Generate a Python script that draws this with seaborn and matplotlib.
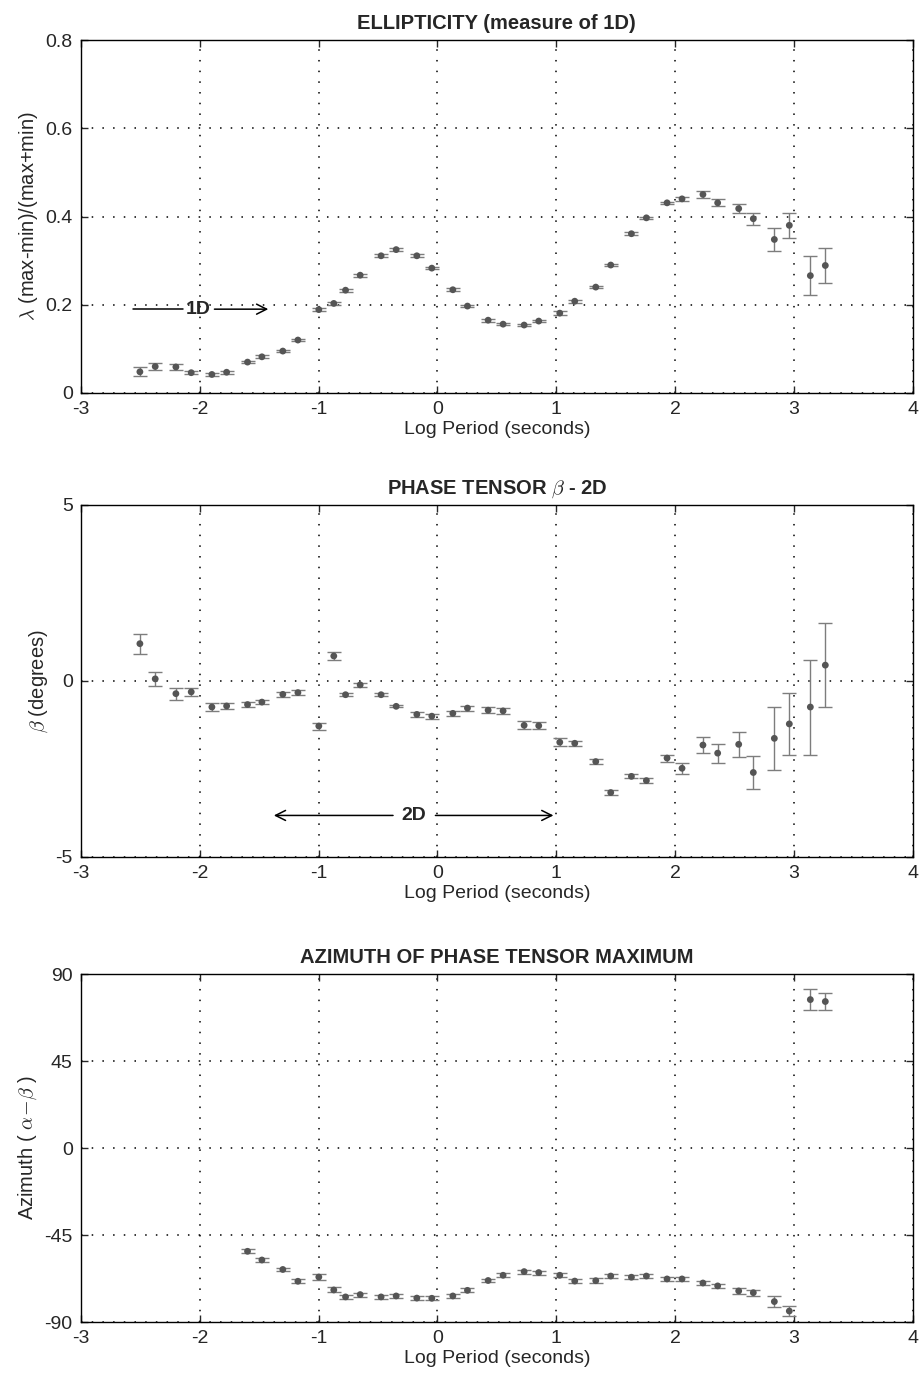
import numpy as np
import matplotlib
matplotlib.use('Agg')
import matplotlib.pyplot as plt
import seaborn as sns

sns.set_style('ticks')
plt.rcParams['font.family'] = ['Liberation Sans', 'DejaVu Sans']
plt.rcParams['mathtext.fontset'] = 'cm'

nan = np.nan

# log10 period of each estimate
log_period = [-2.504, -2.375, -2.201, -2.072, -1.898, -1.774, -1.598, -1.477,
              -1.301, -1.174, -0.998, -0.872, -0.773, -0.650, -0.474, -0.347,
              -0.173, -0.047, 0.130, 0.253, 0.427, 0.553, 0.730, 0.853,
              1.030, 1.156, 1.333, 1.459, 1.633, 1.759, 1.933, 2.059,
              2.235, 2.359, 2.536, 2.659, 2.836, 2.962, 3.139, 3.265]

ellipticity = [0.048, 0.060, 0.059, 0.046, 0.042, 0.047, 0.070, 0.082,
               0.095, 0.120, 0.189, 0.203, 0.233, 0.267, 0.311, 0.325,
               0.311, 0.283, 0.234, 0.197, 0.165, 0.156, 0.154, 0.163,
               0.181, 0.208, 0.240, 0.290, 0.361, 0.397, 0.431, 0.440,
               0.450, 0.431, 0.418, 0.395, 0.348, 0.380, 0.266, 0.289]
ellipticity_err = [0.010, 0.007, 0.007, 0.003, 0.003, 0.003, 0.003, 0.003,
                   0.003, 0.003, 0.004, 0.003, 0.003, 0.003, 0.003, 0.003,
                   0.003, 0.003, 0.003, 0.003, 0.003, 0.003, 0.003, 0.003,
                   0.004, 0.003, 0.003, 0.003, 0.003, 0.003, 0.003, 0.005,
                   0.007, 0.008, 0.011, 0.014, 0.026, 0.028, 0.045, 0.040]

beta = [1.06, 0.06, -0.36, -0.31, -0.74, -0.71, -0.67, -0.60,
        -0.38, -0.33, -1.28, 0.71, -0.39, -0.11, -0.39, -0.72,
        -0.95, -1.00, -0.92, -0.77, -0.83, -0.85, -1.26, -1.27,
        -1.74, -1.77, -2.29, -3.17, -2.71, -2.83, -2.19, -2.48,
        -1.82, -2.05, -1.80, -2.60, -1.63, -1.22, -0.74, 0.45]
beta_err = [0.28, 0.19, 0.17, 0.11, 0.11, 0.085, 0.06, 0.06,
            0.08, 0.08, 0.10, 0.10, 0.04, 0.05, 0.04, 0.03,
            0.06, 0.07, 0.08, 0.07, 0.08, 0.08, 0.11, 0.10,
            0.12, 0.07, 0.07, 0.08, 0.06, 0.07, 0.10, 0.15,
            0.24, 0.27, 0.36, 0.48, 0.90, 0.88, 1.35, 1.19]

azimuth = [nan, nan, nan, nan, nan, nan, -53.4, -57.9,
           -62.8, -68.9, -66.7, -73.4, -77.0, -75.8, -77.0, -76.5,
           -77.6, -77.7, -76.5, -73.6, -68.5, -65.8, -63.9, -64.4,
           -65.8, -68.8, -68.6, -66.2, -66.8, -66.2, -67.7, -67.7,
           -69.8, -71.3, -73.9, -74.8, -79.4, -84.3, 76.8, 75.8]
azimuth_err = [nan, nan, nan, nan, nan, nan, 1.0, 1.0,
               1.0, 1.0, 1.5, 1.3, 1.0, 1.0, 1.0, 1.0,
               1.0, 1.0, 1.0, 1.0, 1.0, 1.0, 1.0, 1.0,
               1.0, 1.0, 1.2, 1.0, 1.0, 1.0, 1.0, 1.0,
               1.0, 1.2, 1.4, 1.6, 3.0, 2.7, 5.6, 4.6]

x_ticks = [-3, -2, -1, 0, 1, 2, 3, 4]


def draw_panel(ax, y, yerr, ylim, yticks, yticklabels, title, ylabel):
    ax.errorbar(log_period, y, yerr=yerr, fmt='none', ecolor='#7d7d7d',
                elinewidth=1.0, capsize=4.7, capthick=1.0, zorder=2)
    sns.scatterplot(x=log_period, y=y, ax=ax, color='#555555', s=24,
                    edgecolor='none', zorder=3, legend=False)
    ax.set_xlim(-3, 4)
    ax.set_ylim(*ylim)
    ax.set_xticks(x_ticks)
    ax.set_xticklabels([str(t) for t in x_ticks])
    ax.set_yticks(yticks)
    ax.set_yticklabels(yticklabels)
    ax.grid(True, linestyle=(0, (1, 6)), color='black', linewidth=1.1)
    ax.tick_params(direction='in', top=True, right=True, length=5,
                   width=1.0, labelsize=14, pad=6)
    for s in ax.spines.values():
        s.set_visible(True)
        s.set_linewidth(1.0)
        s.set_color('black')
    ax.set_title(title, fontsize=14.5, fontweight='bold', pad=8)
    ax.set_xlabel('Log Period (seconds)', fontsize=14, labelpad=2)
    ax.set_ylabel(ylabel, fontsize=14.5, labelpad=4)


fig = plt.figure(figsize=(9.2, 13.76), dpi=100)
ax1 = fig.add_axes([0.088, 0.7144, 0.904, 0.2565])
ax2 = fig.add_axes([0.088, 0.3772, 0.904, 0.2558])
ax3 = fig.add_axes([0.088, 0.0392, 0.904, 0.2529])

draw_panel(ax1, ellipticity, ellipticity_err, (0, 0.8),
           [0, 0.2, 0.4, 0.6, 0.8], ['0', '0.2', '0.4', '0.6', '0.8'],
           'ELLIPTICITY (measure of 1D)', r'$\lambda$ (max-min)/(max+min)')
draw_panel(ax2, beta, beta_err, (-5, 5),
           [-5, 0, 5], ['-5', '0', '5'],
           r'PHASE TENSOR $\beta$ - 2D', r'$\beta$ (degrees)')
draw_panel(ax3, azimuth, azimuth_err, (-90, 90),
           [-90, -45, 0, 45, 90], ['-90', '-45', '0', '45', '90'],
           'AZIMUTH OF PHASE TENSOR MAXIMUM', r'Azimuth ( $\alpha\!-\!\beta$ )')

arrow_kw = dict(arrowstyle='->', color='black', lw=1.1, mutation_scale=18)

# 1D annotation
ax1.plot([-2.56, -2.14], [0.19, 0.19], color='black', lw=1.1, zorder=4)
ax1.text(-2.015, 0.19, '1D', fontsize=14, fontweight='bold',
         ha='center', va='center', zorder=4)
ax1.annotate('', xy=(-1.40, 0.19), xytext=(-1.90, 0.19), arrowprops=arrow_kw)

# 2D annotation
ax2.text(-0.20, -3.82, '2D', fontsize=14, fontweight='bold',
         ha='center', va='center', zorder=4)
ax2.annotate('', xy=(-1.40, -3.82), xytext=(-0.35, -3.82), arrowprops=arrow_kw)
ax2.annotate('', xy=(1.0, -3.82), xytext=(-0.04, -3.82), arrowprops=arrow_kw)

plt.savefig('out.png', dpi=100)
plt.close()
